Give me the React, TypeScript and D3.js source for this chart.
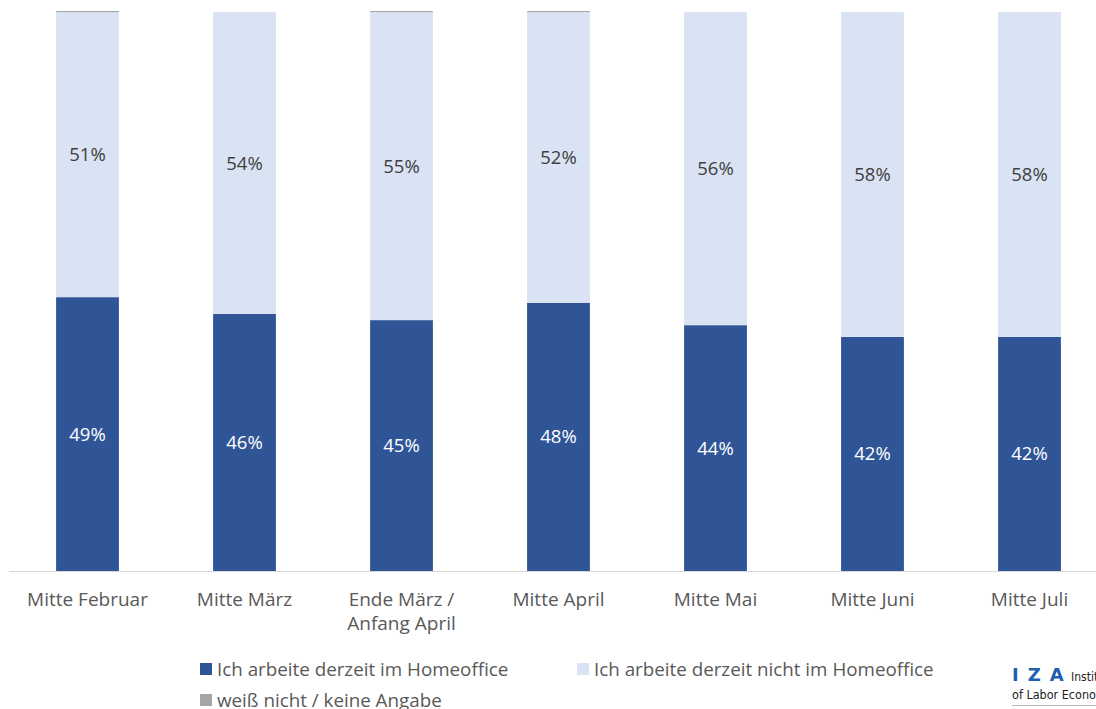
import * as d3 from 'd3';

// Survey waves and shares (percent)
const categories = ['Mitte Februar', 'Mitte März', 'Ende März / Anfang April', 'Mitte April', 'Mitte Mai', 'Mitte Juni', 'Mitte Juli'];
const categoryLines = [['Mitte Februar'], ['Mitte März'], ['Ende März /', 'Anfang April'], ['Mitte April'], ['Mitte Mai'], ['Mitte Juni'], ['Mitte Juli']];
const homeoffice = [48.9, 45.9, 44.8, 47.9, 43.9, 41.8, 41.8];
const nichtHomeoffice = [50.9, 53.9, 55.0, 51.9, 55.9, 58.0, 58.0];
const weissNicht = [0.2, 0.0, 0.2, 0.2, 0.0, 0.0, 0.0];
const homeofficeLabels = ['49%', '46%', '45%', '48%', '44%', '42%', '42%'];
const nichtLabels = ['51%', '54%', '55%', '52%', '56%', '58%', '58%'];

const seriesKeys = ['home', 'nicht', 'weiss'];
const seriesNames = ['Ich arbeite derzeit im Homeoffice', 'Ich arbeite derzeit nicht im Homeoffice', 'weiß nicht / keine Angabe'];
const COLORS = ['#2F5597', '#DAE3F3', '#A6A6A6'];

const WIDTH = 1096;
const HEIGHT = 709;
const FONT = '"Open Sans", "Noto Sans", sans-serif';

export default function App() {
  const table = categories.map((c, i) => ({
    cat: c,
    home: homeoffice[i],
    nicht: nichtHomeoffice[i],
    weiss: weissNicht[i],
  }));

  const stack = d3.stack<any>().keys(seriesKeys)(table);

  const x = d3.scaleBand().domain(categories).range([9, 1108]).paddingInner(0.6).paddingOuter(0.3);
  const y = d3.scaleLinear().domain([0, 100]).range([571, 11]);

  return (
    <svg
      width={WIDTH}
      height={HEIGHT}
      style={{ position: 'absolute', left: 0, top: 0, background: '#fff' }}
      fontFamily={FONT}
    >
      {stack.map((s, si) => (
        <g key={s.key} fill={COLORS[si]}>
          {s.map((d, i) => (
            <rect
              key={i}
              x={x(categories[i])}
              width={x.bandwidth()}
              y={y(d[1])}
              height={Math.max(0, y(d[0]) - y(d[1]))}
            />
          ))}
        </g>
      ))}

      {/* value labels */}
      {stack[0].map((d, i) => (
        <text
          key={'h' + i}
          x={(x(categories[i]) as number) + x.bandwidth() / 2}
          y={(y(d[0]) + y(d[1])) / 2}
          dy="0.35em"
          textAnchor="middle"
          fontSize={18.5}
          fill="#fff"
        >
          {homeofficeLabels[i]}
        </text>
      ))}
      {stack[1].map((d, i) => (
        <text
          key={'n' + i}
          x={(x(categories[i]) as number) + x.bandwidth() / 2}
          y={(y(d[0]) + y(d[1])) / 2}
          dy="0.35em"
          textAnchor="middle"
          fontSize={18.5}
          fill="#404040"
        >
          {nichtLabels[i]}
        </text>
      ))}

      {/* x axis */}
      <line x1={9} x2={WIDTH} y1={571.5} y2={571.5} stroke="#D9D9D9" strokeWidth={1} />
      {categoryLines.map((lines, i) => (
        <text
          key={'x' + i}
          x={(x(categories[i]) as number) + x.bandwidth() / 2}
          y={606}
          textAnchor="middle"
          fontSize={19}
          fill="#595959"
        >
          {lines.map((l, j) => (
            <tspan key={j} x={(x(categories[i]) as number) + x.bandwidth() / 2} dy={j === 0 ? 0 : 24}>
              {l}
            </tspan>
          ))}
        </text>
      ))}

      {/* legend */}
      {[
        { x: 200, y: 663 },
        { x: 577, y: 663 },
        { x: 200, y: 694 },
      ].map((p, i) => (
        <g key={'l' + i} transform={`translate(${p.x},${p.y})`}>
          <rect width={12} height={12} fill={COLORS[i]} />
          <text x={17} y={12.5} fontSize={18.8} fill="#595959">
            {seriesNames[i]}
          </text>
        </g>
      ))}

      {/* IZA logo (cropped at the right edge as in the source) */}
      <g transform="translate(1012,667)">
        <text x={0} y={14} fontSize={18} fontWeight="bold" fill="#1F5FB0" fontFamily="'DejaVu Sans', sans-serif" letterSpacing={9}>
          IZA
        </text>
        <text x={59} y={14} fontSize={12} fill="#222" fontFamily="'Liberation Sans Narrow', 'DejaVu Sans Condensed', sans-serif">
          Instit
        </text>
        <text x={0} y={32} fontSize={12.5} fill="#222" fontFamily="'Liberation Sans Narrow', 'DejaVu Sans Condensed', sans-serif">
          of Labor Econor
        </text>
        <line x1={0} x2={90} y1={38.5} y2={38.5} stroke="#bbb" strokeWidth={1} />
      </g>
    </svg>
  );
}
